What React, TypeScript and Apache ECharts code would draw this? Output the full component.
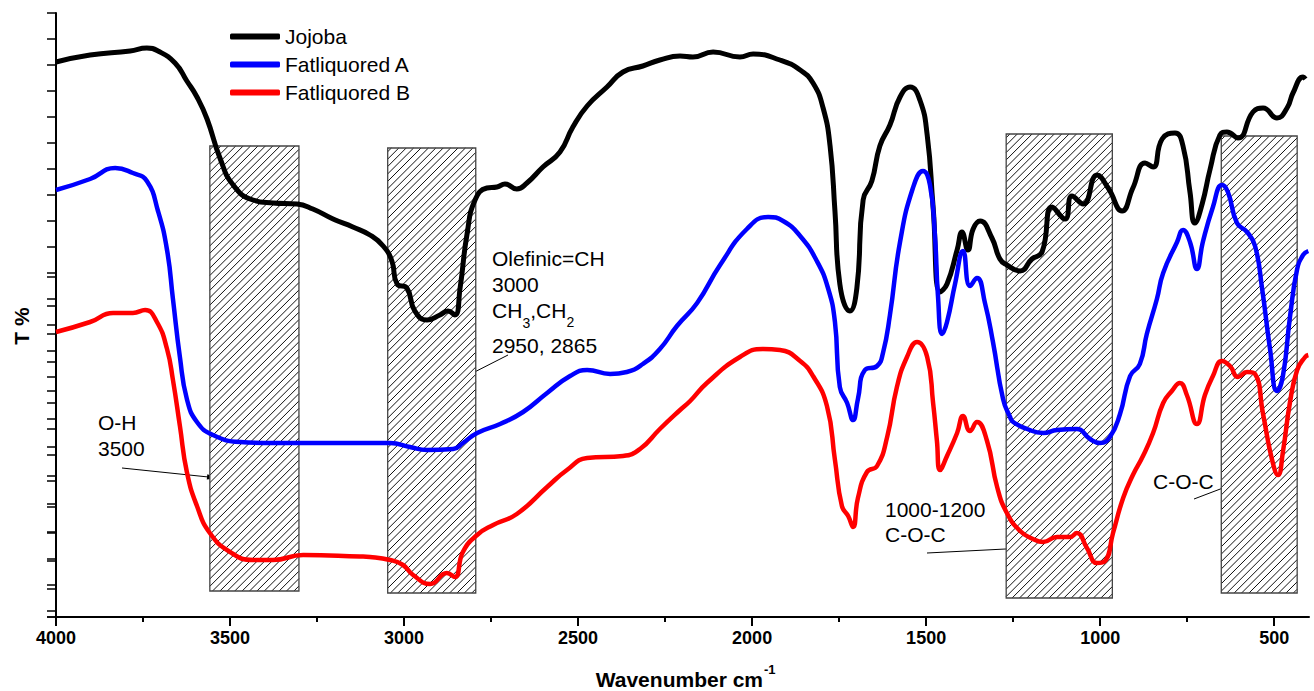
import React, { useEffect, useRef } from "react";
import * as echarts from "echarts";

const FONT = "'Liberation Sans', Arial, Helvetica, sans-serif";

// Wavenumber (cm-1) vs transmittance (arbitrary offset units)
const jojoba: [number, number][] = [
  [4000, 55.5], [3902, 56.2], [3787, 56.6], [3739, 56.9], [3707, 56.6], [3658, 55.4], [3624, 53.6],
  [3595, 52.0], [3566, 49.8], [3529, 45.9], [3491, 43.2], [3434, 41.7], [3377, 41.4], [3308, 41.3],
  [3262, 40.8], [3204, 39.8], [3147, 39.0], [3098, 38.2], [3060, 37.1], [3035, 35.6], [3020, 33.3],
  [2992, 32.9], [2969, 30.6], [2934, 29.7], [2897, 30.2], [2874, 30.6], [2854, 30.2], [2839, 32.9],
  [2819, 38.3], [2796, 41.7], [2762, 42.9], [2733, 43.0], [2710, 43.3], [2676, 42.8], [2647, 43.4],
  [2601, 45.0], [2552, 46.5], [2515, 49.0], [2474, 51.1], [2417, 53.0], [2371, 54.5], [2314, 55.1],
  [2265, 55.7], [2207, 56.1], [2170, 56.0], [2112, 56.5], [2035, 56.0], [1997, 56.3], [1920, 55.7],
  [1862, 54.7], [1825, 53.4], [1796, 50.9], [1776, 47.1], [1762, 40.6], [1748, 33.3], [1719, 30.6],
  [1699, 32.9], [1681, 41.7], [1656, 43.6], [1633, 47.1], [1604, 49.2], [1575, 52.0], [1546, 53.0],
  [1518, 51.7], [1497, 48.2], [1480, 41.0], [1460, 32.5], [1440, 33.3], [1411, 36.7], [1397, 38.5],
  [1380, 36.7], [1365, 38.8], [1345, 39.6], [1311, 37.9], [1288, 35.8], [1268, 35.2], [1230, 34.6],
  [1196, 35.8], [1167, 36.5], [1138, 41.0], [1101, 39.8], [1081, 42.1], [1049, 41.3], [1009, 44.2],
  [977, 42.9], [937, 40.6], [906, 42.9], [871, 45.4], [848, 45.0], [822, 47.8], [785, 48.4],
  [762, 47.1], [742, 42.5], [728, 39.4], [707, 41.3], [684, 44.8], [656, 48.2], [636, 48.5],
  [604, 47.9], [561, 50.5], [532, 50.9], [492, 49.9], [463, 50.9], [446, 52.4], [417, 54.0], [410, 53.8],
];

const fatliquoredA: [number, number][] = [
  [4000, 42.7], [3902, 43.8], [3830, 44.9], [3779, 44.4], [3739, 43.6], [3707, 40.6], [3681, 36.7],
  [3664, 31.8], [3644, 26.0], [3624, 21.8], [3595, 19.5], [3549, 18.2], [3471, 17.5], [3377, 17.4],
  [3098, 17.4], [3040, 17.4], [2983, 17.0], [2934, 16.7], [2859, 16.8], [2831, 17.4], [2790, 18.4],
  [2724, 19.3], [2658, 20.5], [2589, 22.4], [2523, 24.1], [2474, 24.7], [2408, 24.3], [2360, 24.5],
  [2314, 25.3], [2265, 26.8], [2216, 29.1], [2158, 31.4], [2092, 35.2], [2015, 38.8], [1954, 40.0],
  [1911, 39.6], [1862, 38.1], [1814, 35.6], [1782, 32.9], [1762, 29.5], [1748, 23.0], [1727, 21.4],
  [1710, 19.7], [1696, 21.8], [1676, 24.7], [1641, 25.1], [1624, 26.4], [1604, 30.2], [1575, 37.5],
  [1538, 42.9], [1509, 44.6], [1489, 43.2], [1475, 38.3], [1466, 32.1], [1454, 28.3], [1440, 29.5],
  [1417, 33.3], [1394, 36.6], [1374, 33.1], [1354, 33.9], [1331, 31.4], [1308, 27.5], [1279, 21.8],
  [1259, 20.0], [1250, 19.5], [1210, 18.8], [1164, 18.4], [1124, 18.7], [1067, 18.8], [1029, 17.8],
  [1000, 17.4], [972, 18.0], [943, 20.3], [914, 24.1], [886, 25.3], [866, 28.3], [837, 31.8],
  [819, 34.4], [779, 37.5], [762, 38.7], [742, 37.5], [722, 34.8], [705, 37.5], [676, 41.0],
  [650, 43.2], [633, 42.5], [607, 39.4], [578, 38.5], [555, 37.1], [535, 32.9], [512, 26.8],
  [492, 22.6], [475, 24.1], [455, 29.9], [434, 34.8], [417, 36.2], [402, 36.6],
];

const fatliquoredB: [number, number][] = [
  [4000, 28.5], [3902, 29.5], [3836, 30.4], [3779, 30.4], [3744, 30.7], [3710, 29.5], [3681, 26.8],
  [3664, 23.7], [3644, 19.1], [3624, 14.5], [3595, 11.1], [3558, 8.4], [3500, 6.5], [3434, 5.7],
  [3377, 5.7], [3290, 6.2], [3127, 6.05], [3098, 6.0], [3040, 5.7], [3003, 5.2], [2974, 4.2],
  [2925, 3.3], [2877, 4.4], [2854, 4.0], [2831, 6.5], [2790, 8.2], [2744, 9.2], [2676, 10.3],
  [2589, 13.0], [2532, 14.7], [2474, 15.9], [2371, 16.1], [2322, 16.8], [2265, 18.8], [2207, 20.7],
  [2178, 21.6], [2130, 23.4], [2035, 26.0], [1969, 26.8], [1920, 26.7], [1862, 25.6], [1825, 24.1],
  [1785, 21.1], [1762, 15.7], [1742, 11.1], [1724, 10.1], [1710, 9.0], [1696, 11.9], [1670, 14.5],
  [1641, 15.1], [1612, 18.0], [1584, 23.0], [1555, 26.0], [1526, 27.5], [1497, 26.0], [1480, 21.4],
  [1469, 17.6], [1460, 14.7], [1440, 16.1], [1411, 18.4], [1394, 20.1], [1374, 18.6], [1354, 19.5],
  [1325, 17.6], [1296, 13.0], [1268, 10.4], [1230, 8.6], [1193, 7.8], [1164, 7.5], [1124, 8.0],
  [1087, 8.0], [1067, 8.4], [1038, 6.9], [1009, 5.4], [986, 5.6], [963, 8.4], [934, 11.9],
  [906, 14.2], [877, 16.1], [848, 18.4], [819, 21.4], [794, 22.6], [771, 23.4], [751, 22.2],
  [722, 19.3], [699, 22.2], [676, 24.1], [650, 25.6], [627, 25.1], [604, 24.0], [578, 24.5],
  [555, 24.3], [532, 20.3], [506, 15.7], [489, 14.2], [475, 16.5], [455, 21.4], [434, 24.7],
  [411, 26.0], [402, 26.2],
];

const seriesNames = ["Jojoba", "Fatliquored A", "Fatliquored B"];

const xLabelTicks = [4000, 3500, 3000, 2500, 2000, 1500, 1000, 500];
const xMinorTicks = [3750, 3250, 2750, 2250, 1750, 1250, 750];

// Hatched absorption bands
const bandStart = [3558, 3047, 1270, 652];
const bandEnd = [3302, 2794, 965, 434];
const bandTop = [47.1, 46.9, 48.3, 48.1];
const bandBottom = [2.6, 2.4, 1.9, 2.4];

const X_MIN = 400;
const X_MAX = 4000;
const Y_MAX = 60.4;

function arrow(x1: number, y1: number, x2: number, y2: number) {
  const dx = x2 - x1;
  const dy = y2 - y1;
  const L = Math.hypot(dx, dy);
  const ux = dx / L;
  const uy = dy / L;
  const nx = -uy;
  const ny = ux;
  const hl = 11;
  const hw = 2.6;
  return [
    {
      type: "line",
      silent: true,
      shape: { x1, y1, x2: x2 - ux * hl * 0.6, y2: y2 - uy * hl * 0.6 },
      style: { stroke: "#000", lineWidth: 1 },
    },
    {
      type: "polygon",
      silent: true,
      shape: {
        points: [
          [x2, y2],
          [x2 - ux * hl + nx * hw, y2 - uy * hl + ny * hw],
          [x2 - ux * hl - nx * hw, y2 - uy * hl - ny * hw],
        ],
      },
      style: { fill: "#000" },
    },
  ];
}

function txt(text: string, x: number, y: number, size = 21, extra: any = {}) {
  return {
    type: "text",
    silent: true,
    x,
    y,
    style: {
      text,
      fontSize: size,
      fontFamily: FONT,
      fill: "#000",
      align: "left",
      verticalAlign: "middle",
      ...extra,
    },
  };
}

export default function App() {
  const ref = useRef<HTMLDivElement>(null);

  useEffect(() => {
    document.body.style.margin = "0";
    if (!ref.current) return;
    const chart = echarts.init(ref.current, undefined, { renderer: "svg" });

    const bandData = bandStart.map((s, i) => [s, bandEnd[i], bandTop[i], bandBottom[i]]);

    const axisBlack = { color: "#000", width: 2 };

    const graphic: any[] = [
      txt("Wavenumber cm", 763, 679, 21, { fontWeight: "bold", align: "right" }),
      txt("-1", 764, 669, 13, { fontWeight: "bold" }),
      {
        type: "text",
        silent: true,
        x: 21,
        y: 326,
        rotation: Math.PI / 2,
        style: {
          text: "T %",
          fontSize: 21,
          fontWeight: "bold",
          fontFamily: FONT,
          fill: "#000",
          align: "center",
          verticalAlign: "middle",
        },
      },
      txt("O-H", 98, 422),
      txt("3500", 98, 448),
      ...arrow(122, 468, 218, 478),
      txt("Olefinic=CH", 492, 258),
      txt("3000", 492, 284),
      txt("CH", 492, 310),
      txt("3", 522.5, 323, 14),
      txt(",", 530.3, 310),
      txt("CH", 536, 310),
      txt("2", 566.6, 322, 14),
      txt("2950, 2865", 492, 345),
      ...arrow(508, 355, 453, 383),
      txt("1000-1200", 885, 509),
      txt("C-O-C", 885, 534),
      ...arrow(927, 553, 1045, 547),
      txt("C-O-C", 1153, 481),
      ...arrow(1194, 499, 1273, 469),
    ];

    const lineCommon = {
      type: "line",
      xAxisIndex: 0,
      yAxisIndex: 0,
      showSymbol: false,
      smooth: 0.5,
      z: 3,
    };

    const option: any = {
      animation: false,
      backgroundColor: "#fff",
      textStyle: { fontFamily: FONT },
      legend: {
        data: seriesNames,
        orient: "vertical",
        left: 230,
        top: 26,
        padding: 0,
        itemWidth: 50,
        itemHeight: 6,
        itemGap: 7,
        icon: "roundRect",
        textStyle: { fontSize: 21, color: "#000", fontFamily: FONT },
      },
      grid: [
        { left: 56, right: 5, top: 13, bottom: 74 },
        { left: 56, right: 5, top: 277, bottom: 74 },
      ],
      xAxis: [
        {
          gridIndex: 0,
          type: "value",
          inverse: true,
          min: X_MIN,
          max: X_MAX,
          position: "bottom",
          axisLine: { show: true, lineStyle: axisBlack },
          axisTick: { show: true, customValues: xLabelTicks, length: 9, lineStyle: { color: "#000", width: 2 } },
          axisLabel: {
            show: true,
            customValues: xLabelTicks,
            formatter: (v: number) => String(v),
            fontSize: 18,
            fontWeight: "bold",
            color: "#000",
            fontFamily: FONT,
            margin: 12,
          },
          splitLine: { show: false },
        },
        {
          gridIndex: 1,
          type: "value",
          inverse: true,
          min: X_MIN,
          max: X_MAX,
          position: "bottom",
          axisLine: { show: false },
          axisTick: { show: true, customValues: xMinorTicks, length: 5, lineStyle: { color: "#000", width: 2 } },
          axisLabel: { show: false },
          splitLine: { show: false },
        },
      ],
      yAxis: [
        { gridIndex: 0, type: "value", min: 0, max: Y_MAX, show: false },
        {
          gridIndex: 0,
          type: "value",
          inverse: true,
          min: 0,
          max: Y_MAX,
          interval: 2.6,
          position: "left",
          axisLine: { show: true, lineStyle: axisBlack },
          axisTick: { show: true, length: 9, lineStyle: { color: "#000", width: 1.5 } },
          axisLabel: { show: false },
          splitLine: { show: false },
        },
        {
          gridIndex: 1,
          type: "value",
          min: 0,
          max: 12,
          interval: 1,
          position: "left",
          axisLine: { show: false },
          axisTick: { show: true, length: 9, lineStyle: { color: "#000", width: 1.5 } },
          axisLabel: { show: false },
          splitLine: { show: false },
        },
      ],
      series: [
        {
          type: "custom",
          name: "bands",
          xAxisIndex: 0,
          yAxisIndex: 0,
          z: 1,
          silent: true,
          data: bandData,
          encode: { x: [0, 1], y: [2, 3] },
          renderItem: (_params: any, api: any) => {
            const pA = api.coord([api.value(0), api.value(2)]);
            const pB = api.coord([api.value(1), api.value(3)]);
            const left = Math.min(pA[0], pB[0]);
            const right = Math.max(pA[0], pB[0]);
            const top = Math.min(pA[1], pB[1]);
            const bottom = Math.max(pA[1], pB[1]);
            const children: any[] = [
              {
                type: "rect",
                shape: { x: left, y: top, width: right - left, height: bottom - top },
                style: { fill: "#fff", stroke: "none" },
              },
            ];
            const step = 7.4;
            for (let c = left + top + step / 2; c < right + bottom; c += step) {
              const xa = Math.max(left, c - bottom);
              const xb = Math.min(right, c - top);
              if (xb > xa) {
                children.push({
                  type: "line",
                  shape: { x1: xa, y1: c - xa, x2: xb, y2: c - xb },
                  style: { stroke: "#111", lineWidth: 1 },
                });
              }
            }
            children.push({
              type: "rect",
              shape: { x: left, y: top, width: right - left, height: bottom - top },
              style: { fill: "none", stroke: "#444", lineWidth: 1.3 },
            });
            return { type: "group", children };
          },
        },
        {
          ...lineCommon,
          name: seriesNames[0],
          data: jojoba,
          lineStyle: { color: "#000", width: 5 },
          itemStyle: { color: "#000" },
        },
        {
          ...lineCommon,
          name: seriesNames[1],
          data: fatliquoredA,
          lineStyle: { color: "#0000ff", width: 4.5 },
          itemStyle: { color: "#0000ff" },
        },
        {
          ...lineCommon,
          name: seriesNames[2],
          data: fatliquoredB,
          lineStyle: { color: "#ff0000", width: 4.5 },
          itemStyle: { color: "#ff0000" },
        },
      ],
      graphic,
    };

    chart.setOption(option);
    return () => {
      chart.dispose();
    };
  }, []);

  return (
    <div
      ref={ref}
      style={{ position: "absolute", left: 0, top: 0, width: 1314, height: 691, background: "#fff" }}
    />
  );
}
